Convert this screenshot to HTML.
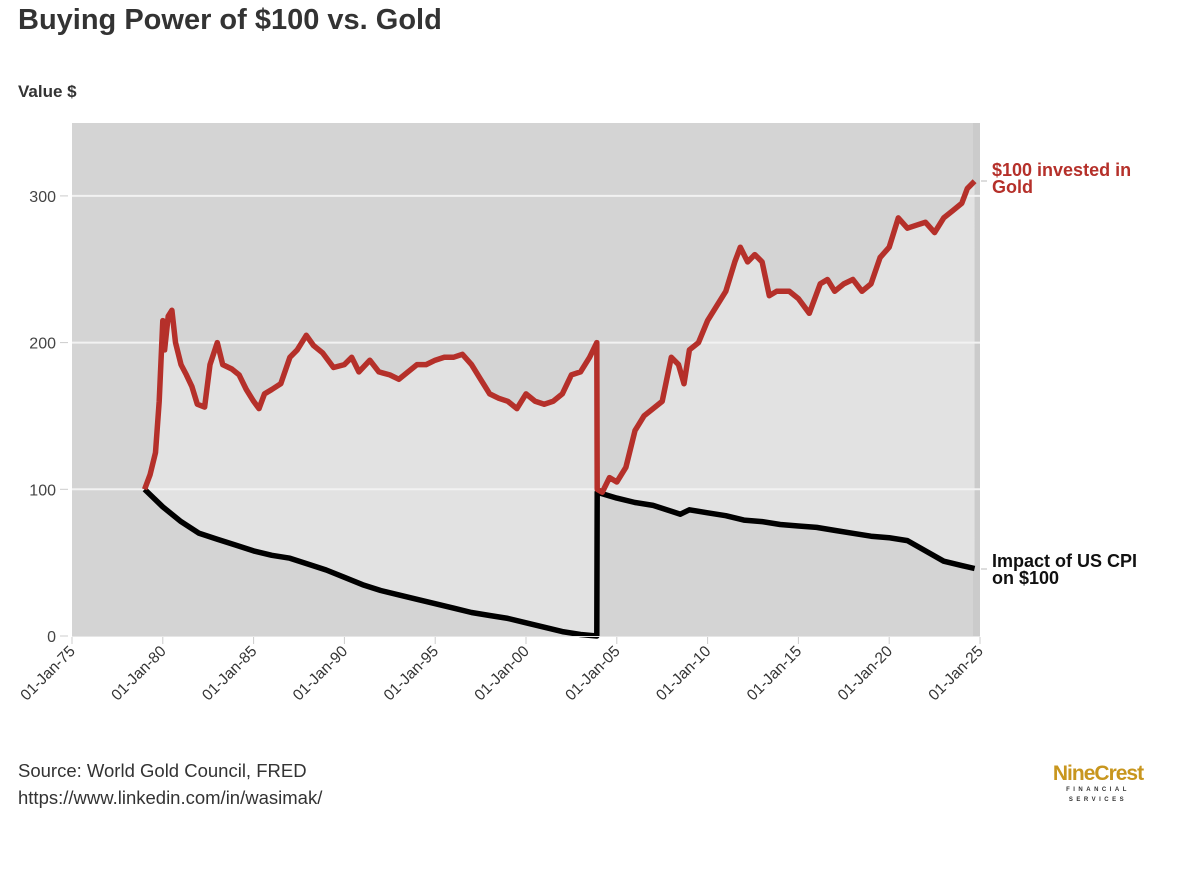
<!DOCTYPE html>
<html><head><meta charset="utf-8">
<style>
body{margin:0;background:#fff;width:1178px;height:870px;overflow:hidden;font-family:"Liberation Sans",sans-serif;}
</style></head>
<body>
<svg id="chart" width="1178" height="870" xmlns="http://www.w3.org/2000/svg" font-family="Liberation Sans, sans-serif">
<text x="18" y="29" font-size="29" font-weight="bold" fill="#333">Buying Power of $100 vs. Gold</text>
<text x="18" y="97" font-size="17" font-weight="bold" fill="#333">Value $</text>
<rect x="72" y="123" width="908" height="513" fill="#d4d4d4"/>
<rect x="973" y="123" width="7" height="513" fill="#cbcbcb"/>
<g id="fill"></g>
<g id="grid"></g>
<g id="series"></g>
<g id="axes"></g>
<text font-size="18" font-weight="bold" fill="#b5302a"><tspan x="992" y="176">$100 invested in</tspan><tspan x="992" y="193">Gold</tspan></text>
<text font-size="18" font-weight="bold" fill="#111"><tspan x="992" y="567">Impact of US CPI</tspan><tspan x="992" y="584">on $100</tspan></text>
<line x1="981" y1="181" x2="987" y2="181" stroke="#bbb"/>
<line x1="981" y1="569" x2="987" y2="569" stroke="#bbb"/>
<text x="18" y="777" font-size="18.5" fill="#333">Source: World Gold Council, FRED</text>
<text x="18" y="804" font-size="18.5" fill="#333">https://www.linkedin.com/in/wasimak/</text>
<g>
<text x="1098" y="780" font-size="21" font-weight="bold" fill="#c8961e" text-anchor="middle" letter-spacing="-1">NineCrest</text>
<text x="1098" y="791" font-size="6" font-weight="bold" fill="#333" text-anchor="middle" letter-spacing="3.5">FINANCIAL</text>
<text x="1098" y="801" font-size="6" font-weight="bold" fill="#333" text-anchor="middle" letter-spacing="3.5">SERVICES</text>
</g>
</svg>
<script>
const goldYears=[1979.0,1979.3,1979.6,1979.8,1980.0,1980.1,1980.3,1980.5,1980.7,1981.0,1981.3,1981.6,1981.9,1982.3,1982.6,1983.0,1983.3,1983.8,1984.2,1984.6,1985.0,1985.3,1985.6,1986.0,1986.5,1987.0,1987.4,1987.9,1988.3,1988.8,1989.4,1990.0,1990.4,1990.8,1991.4,1991.9,1992.5,1993.0,1993.5,1994.0,1994.5,1995.0,1995.5,1996.0,1996.5,1997.0,1997.5,1998.0,1998.5,1999.0,1999.5,2000.0,2000.5,2001.0,2001.5,2002.0,2002.5,2003.0,2003.5,2003.9,2003.92,2004.2,2004.6,2005.0,2005.5,2006.0,2006.5,2007.0,2007.5,2008.0,2008.4,2008.7,2009.0,2009.5,2010.0,2010.5,2011.0,2011.5,2011.8,2012.2,2012.6,2013.0,2013.4,2013.8,2014.5,2015.0,2015.6,2016.2,2016.6,2017.0,2017.5,2018.0,2018.5,2019.0,2019.5,2020.0,2020.5,2021.0,2021.5,2022.0,2022.5,2023.0,2023.5,2024.0,2024.3,2024.7];
const goldValues=[100,110,125,160,215,195,218,222,200,185,178,170,158,156,185,200,185,182,178,168,160,155,165,168,172,190,195,205,198,193,183,185,190,180,188,180,178,175,180,185,185,188,190,190,192,185,175,165,162,160,155,165,160,158,160,165,178,180,190,200,100,98,108,105,115,140,150,155,160,190,185,172,195,200,215,225,235,255,265,255,260,255,232,235,235,230,220,240,243,235,240,243,235,240,258,265,285,278,280,282,275,285,290,295,305,310];
const cpiYears=[1979,1980,1981,1982,1983,1984,1985,1986,1987,1988,1989,1990,1991,1992,1993,1994,1995,1996,1997,1998,1999,2000,2001,2002,2003,2003.9,2003.92,2005,2006,2007,2008,2008.5,2009,2010,2011,2012,2013,2014,2015,2016,2017,2018,2019,2020,2021,2022,2023,2024,2024.7];
const cpiValues=[100,88,78,70,66,62,58,55,53,49,45,40,35,31,28,25,22,19,16,14,12,9,6,3,1,0,98,94,91,89,85,83,86,84,82,79,78,76,75,74,72,70,68,67,65,58,51,48,46];
const yTicks=[0,100,200,300];
const xTickYears=[1975,1980,1985,1990,1995,2000,2005,2010,2015,2020,2025];
const xTickLabels=["01-Jan-75","01-Jan-80","01-Jan-85","01-Jan-90","01-Jan-95","01-Jan-00","01-Jan-05","01-Jan-10","01-Jan-15","01-Jan-20","01-Jan-25"];

const NS="http://www.w3.org/2000/svg";
const X=t=>72+(t-1975)*(908/50);
const Y=v=>636-v*1.467;
function mk(tag,attrs,parent){const e=document.createElementNS(NS,tag);for(const k in attrs)e.setAttribute(k,attrs[k]);parent.appendChild(e);return e;}

const fillG=document.getElementById('fill');
let pts=goldYears.map((t,i)=>X(t).toFixed(1)+','+Y(goldValues[i]).toFixed(1));
for(let i=cpiYears.length-1;i>=0;i--)pts.push(X(cpiYears[i]).toFixed(1)+','+Y(cpiValues[i]).toFixed(1));
const fp=mk('polygon',{points:pts.join(' '),fill:'#e2e2e2'},fillG);



const grid=document.getElementById('grid');
yTicks.forEach(v=>{
  if(v>0){const l=mk('line',{x1:72,x2:980,y1:Y(v),y2:Y(v),stroke:'#f2f2f2','stroke-width':2},grid);
  
  }
});

const axes=document.getElementById('axes');
mk('line',{x1:72,x2:980,y1:636.5,y2:636.5,stroke:'#e6e6e6','stroke-width':1},axes);
yTicks.forEach(v=>{
  const t=mk('text',{x:56,y:Y(v)+6,'font-size':16,fill:'#444','text-anchor':'end'},axes);
  t.textContent=v;
  
  
  mk('line',{x1:60,x2:68,y1:Y(v),y2:Y(v),stroke:'#ccc'},axes);
});
xTickYears.forEach((yr,i)=>{
  const x=X(yr);
  mk('line',{x1:x,x2:x,y1:637,y2:644,stroke:'#ccc'},axes);
  const t=mk('text',{x:x+4,y:652,'font-size':15.5,fill:'#333','text-anchor':'end',transform:`rotate(-45 ${x+4} 652)`},axes);
  t.textContent=xTickLabels[i];
  
  
});

const series=document.getElementById('series');
const cp=mk('polyline',{points:cpiYears.map((t,i)=>X(t).toFixed(1)+','+Y(cpiValues[i]).toFixed(1)).join(' '),fill:'none',stroke:'#000','stroke-width':5.5,'stroke-linejoin':'round'},series);


const gp=mk('polyline',{points:goldYears.map((t,i)=>X(t).toFixed(1)+','+Y(goldValues[i]).toFixed(1)).join(' '),fill:'none',stroke:'#b5302a','stroke-width':5.5,'stroke-linejoin':'round'},series);


</script>
</body></html>
